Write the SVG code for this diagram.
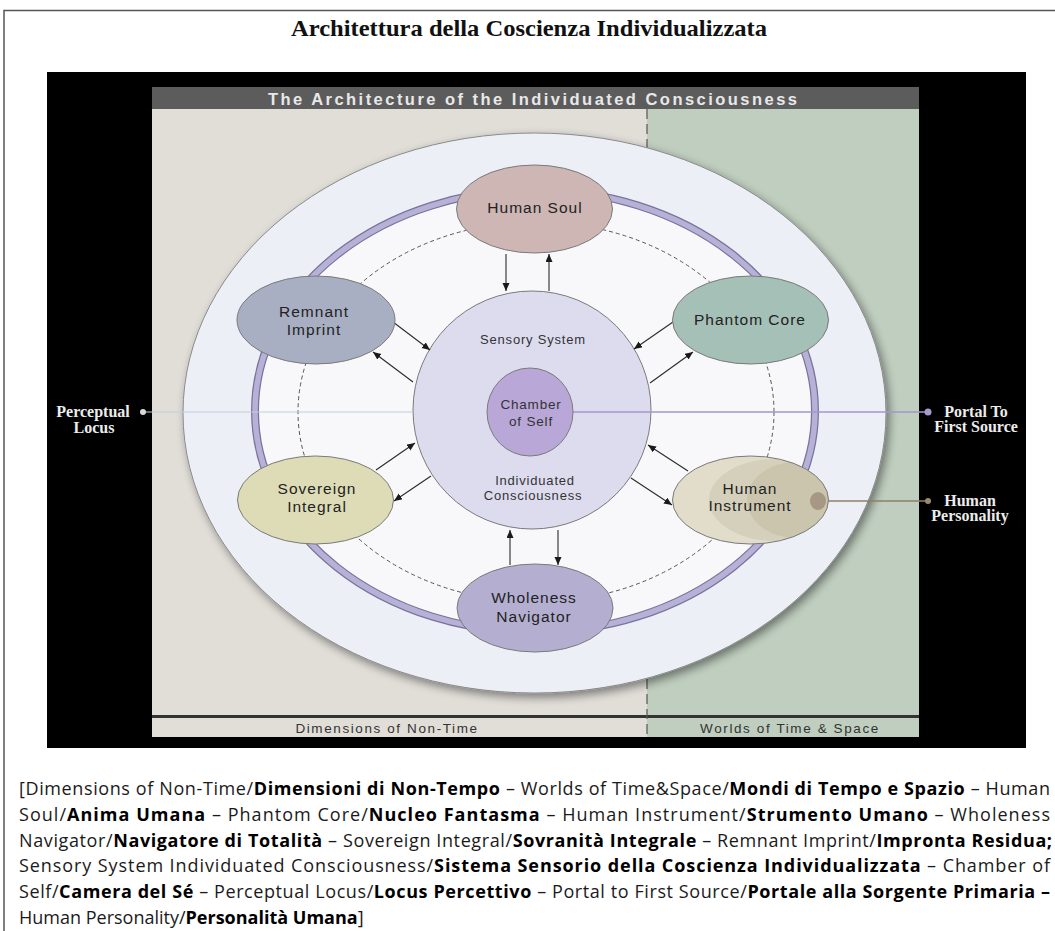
<svg xmlns="http://www.w3.org/2000/svg" width="1055" height="931" viewBox="0 0 1055 931">
<style>
.lbl{font-family:"Liberation Sans",Arial,sans-serif;font-size:15.5px;letter-spacing:1px;fill:#222;text-anchor:middle}
.sm{font-family:"Liberation Sans",Arial,sans-serif;font-size:13px;letter-spacing:0.8px;fill:#333;text-anchor:middle}
.side{font-family:"Liberation Serif","Times New Roman",serif;font-weight:bold;font-size:16px;fill:#ececec;text-anchor:middle}
.bar{font-family:"Liberation Sans",Arial,sans-serif;font-size:13.5px;letter-spacing:1.6px;fill:#333;text-anchor:middle}
.node{stroke:#7a7a7a;stroke-width:1}
.arr{stroke:#2a2a2a;stroke-width:1.1;fill:none;marker-end:url(#ah)}
.para{font-family:"Open Sans","Noto Sans",sans-serif;font-size:18px;fill:#1a1a1a;white-space:pre}
.b{font-weight:bold;fill:#000}
</style>
<defs>
<marker id="ah" markerWidth="9" markerHeight="8" refX="8" refY="3.5" orient="auto" markerUnits="userSpaceOnUse">
<path d="M0,0 L8,3.5 L0,7 z" fill="#1a1a1a"/>
</marker>
<filter id="sh" x="-10%" y="-10%" width="125%" height="125%">
<feGaussianBlur in="SourceAlpha" stdDeviation="5"/>
<feOffset dx="3" dy="4" result="b"/>
<feComponentTransfer><feFuncA type="linear" slope="0.45"/></feComponentTransfer>
<feMerge><feMergeNode/><feMergeNode in="SourceGraphic"/></feMerge>
</filter>
<clipPath id="hiclip"><ellipse cx="750.5" cy="500" rx="78" ry="44"/></clipPath>
</defs>

<!-- page -->
<rect x="0" y="0" width="1055" height="931" fill="#ffffff"/>
<path d="M4,940 L4,10.5 L1055,10.5" fill="none" stroke="#555" stroke-width="1.5"/>
<text x="291" y="36" textLength="476" lengthAdjust="spacingAndGlyphs" style="font-family:'Liberation Serif','Times New Roman',serif;font-weight:bold;font-size:23px;fill:#111">Architettura della Coscienza Individualizzata</text>

<!-- black frame -->
<rect x="47" y="72" width="979" height="676" fill="#000"/>
<rect x="152" y="109" width="495" height="609" fill="#e1ded8"/>
<rect x="647" y="109" width="272" height="609" fill="#bfcebf"/>
<rect x="152" y="87" width="767" height="22" fill="#5c5c5c"/>
<text x="268" y="104.5" textLength="529" lengthAdjust="spacing" style="font-family:'Liberation Sans',Arial,sans-serif;font-weight:bold;font-size:16.5px;fill:#e8e8e8">The Architecture of the Individuated Consciousness</text>
<!-- bottom bar -->
<rect x="152" y="715" width="767" height="3" fill="#333"/>
<rect x="152" y="718" width="495" height="19" fill="#e1ded8"/>
<rect x="647" y="718" width="272" height="19" fill="#bfcebf"/>
<text class="bar" x="387" y="732.5">Dimensions of Non-Time</text>
<text class="bar" x="790" y="732.5">Worlds of Time &amp; Space</text>
<line x1="647" y1="109" x2="647" y2="737" stroke="#555" stroke-width="1.2" stroke-dasharray="10 5"/>

<!-- outer ellipse and ring -->
<ellipse cx="534.5" cy="413" rx="351.5" ry="280" fill="#eceff5" stroke="#8a8a8a" stroke-width="1" filter="url(#sh)"/>
<ellipse cx="535" cy="411" rx="280" ry="221" fill="#f8f8fa" stroke="#77739a" stroke-width="8"/>
<ellipse cx="535" cy="411" rx="280" ry="221" fill="none" stroke="#b7b1d8" stroke-width="5.5"/>
<ellipse cx="536" cy="412" rx="238" ry="190" fill="none" stroke="#555" stroke-width="1" stroke-dasharray="4 3"/>

<!-- central -->
<g id="sensory-system">
<circle class="node" cx="532" cy="410" r="119" fill="#dddcef"/>
<text class="sm" x="533" y="344">Sensory System</text>
<text class="sm" x="535" y="485">Individuated</text>
<text class="sm" x="533" y="500">Consciousness</text>
</g>

<!-- connectors -->
<g id="connectors">
<line x1="143" y1="412" x2="413" y2="412" stroke="#c4cbe0" stroke-width="1.2"/>
<line x1="573" y1="412" x2="928" y2="412" stroke="#a596cc" stroke-width="1.5"/>
<line x1="818" y1="501" x2="928" y2="501" stroke="#8e8168" stroke-width="1.5"/>
<circle cx="143" cy="412" r="3" fill="#d8d8d8"/>
<circle cx="928" cy="412" r="3.5" fill="#a898d0"/>
<circle cx="928" cy="501" r="3" fill="#9a8b70"/>
<line class="arr" x1="506" y1="254" x2="506" y2="291"/>
<line class="arr" x1="549" y1="291" x2="549" y2="254"/>
<line class="arr" x1="510" y1="565" x2="510" y2="530"/>
<line class="arr" x1="558" y1="530" x2="558" y2="565"/>
<line class="arr" x1="393" y1="322" x2="430" y2="350"/>
<line class="arr" x1="413" y1="382" x2="373" y2="352"/>
<line class="arr" x1="673" y1="322" x2="634" y2="349"/>
<line class="arr" x1="650" y1="383" x2="693" y2="352"/>
<line class="arr" x1="376" y1="470" x2="415" y2="443"/>
<line class="arr" x1="431" y1="476" x2="394" y2="501"/>
<line class="arr" x1="688" y1="471" x2="648" y2="445"/>
<line class="arr" x1="631" y1="478" x2="672" y2="505"/>
</g>

<g id="chamber-of-self">
<ellipse class="node" cx="530" cy="412" rx="43" ry="44" fill="#b9a7d8"/>
<text class="sm" x="531" y="409" style="font-size:13.5px">Chamber</text>
<text class="sm" x="531" y="426" style="font-size:13.5px">of Self</text>
</g>

<g id="human-soul">
<ellipse class="node" cx="534.5" cy="209" rx="78" ry="44" fill="#cdb6b4"/>
<text class="lbl" x="535" y="213">Human Soul</text>
</g>
<g id="remnant-imprint">
<ellipse class="node" cx="316" cy="320" rx="79" ry="44" fill="#a9afc3"/>
<text class="lbl" x="314" y="317">Remnant</text>
<text class="lbl" x="314" y="335">Imprint</text>
</g>
<g id="phantom-core">
<ellipse class="node" cx="750.5" cy="320" rx="78" ry="44" fill="#a5c0b6"/>
<text class="lbl" x="750" y="325">Phantom Core</text>
</g>
<g id="sovereign-integral">
<ellipse class="node" cx="315.5" cy="500" rx="78" ry="44" fill="#dedcb7"/>
<text class="lbl" x="317" y="494">Sovereign</text>
<text class="lbl" x="317" y="512">Integral</text>
</g>
<g id="human-instrument">
<ellipse cx="750.5" cy="500" rx="78" ry="44" fill="#e1ddca"/>
<g clip-path="url(#hiclip)">
<ellipse cx="775" cy="500" rx="66" ry="41" fill="#d5d0bb"/>
<ellipse cx="795" cy="500" rx="48" ry="38" fill="#cbc5ad"/>
</g>
<ellipse class="node" cx="750.5" cy="500" rx="78" ry="44" fill="none"/>
<ellipse cx="818" cy="501" rx="8" ry="9" fill="#a69884"/>
<text class="lbl" x="750" y="494">Human</text>
<text class="lbl" x="750" y="511">Instrument</text>
</g>
<g id="wholeness-navigator">
<ellipse class="node" cx="535" cy="608" rx="78" ry="44" fill="#b4afd1"/>
<text class="lbl" x="534" y="603">Wholeness</text>
<text class="lbl" x="534" y="622">Navigator</text>
</g>

<!-- side labels -->
<g id="perceptual-locus">
<text class="side" x="93" y="417">Perceptual</text>
<text class="side" x="94" y="433">Locus</text>
</g>
<g id="portal">
<text class="side" x="976" y="417">Portal To</text>
<text class="side" x="976" y="432">First Source</text>
</g>
<g id="human-personality">
<text class="side" x="970" y="506">Human</text>
<text class="side" x="970" y="521">Personality</text>
</g>

<!-- caption -->
<g id="caption" class="para">
<text x="19" y="795" textLength="1031" lengthAdjust="spacing">[Dimensions of Non-Time/<tspan class="b">Dimensioni di Non-Tempo</tspan> –  Worlds of Time&amp;Space/<tspan class="b">Mondi di Tempo e Spazio</tspan> –  Human</text>
<text x="19" y="821" textLength="1031" lengthAdjust="spacing">Soul/<tspan class="b">Anima Umana</tspan> –  Phantom Core/<tspan class="b">Nucleo Fantasma</tspan> –  Human Instrument/<tspan class="b">Strumento Umano</tspan> –  Wholeness</text>
<text x="19" y="847" textLength="1033" lengthAdjust="spacing">Navigator/<tspan class="b">Navigatore di Totalità</tspan> –  Sovereign Integral/<tspan class="b">Sovranità Integrale</tspan> –  Remnant Imprint/<tspan class="b">Impronta Residua;</tspan></text>
<text x="19" y="872" textLength="1031" lengthAdjust="spacing">Sensory System Individuated Consciousness/<tspan class="b">Sistema Sensorio della Coscienza Individualizzata</tspan> –  Chamber of</text>
<text x="19" y="898" textLength="1031" lengthAdjust="spacing">Self/<tspan class="b">Camera del Sé</tspan> –  Perceptual Locus/<tspan class="b">Locus Percettivo</tspan> –  Portal to First Source/<tspan class="b">Portale alla Sorgente Primaria –</tspan></text>
<text x="19" y="924">Human Personality/<tspan class="b">Personalità Umana</tspan>]</text>
</g>
</svg>
